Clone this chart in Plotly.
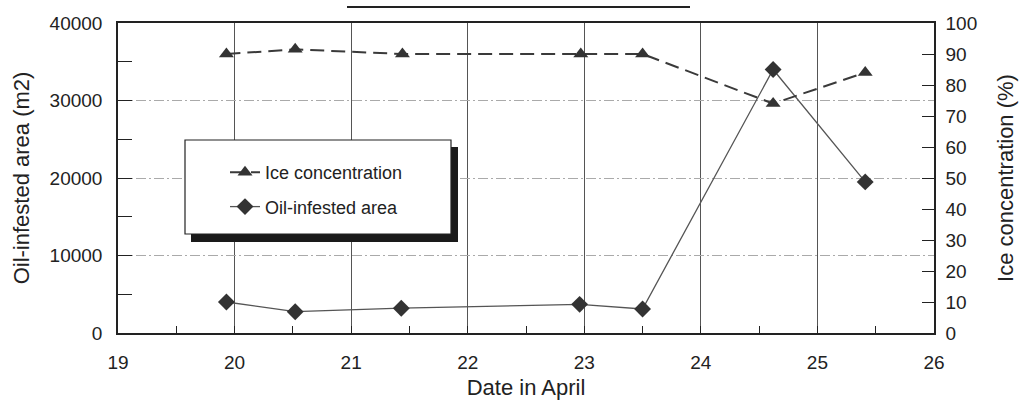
import plotly.graph_objects as go

# Data
ice_dates = [19.93, 20.52, 21.44, 22.97, 23.50, 24.62, 25.41]
ice_conc = [90, 91.5, 90, 90, 90, 74, 84]

oil_dates = [19.93, 20.52, 21.43, 22.96, 23.50, 24.62, 25.41]
oil_area = [4000, 2750, 3200, 3700, 3100, 34000, 19500]

x_ticks = [19, 20, 21, 22, 23, 24, 25, 26]
left_ticks = [0, 10000, 20000, 30000, 40000]
right_ticks = [0, 10, 20, 30, 40, 50, 60, 70, 80, 90, 100]

FONT = "Liberation Sans, Arial, sans-serif"
INK = "#222222"

fig = go.Figure()

fig.add_trace(go.Scatter(
    x=ice_dates, y=ice_conc, yaxis="y2", name="Ice concentration",
    mode="lines+markers", legendgroup="a",
    line=dict(color="#3a3a3a", width=2, dash="14px,7px"),
    marker=dict(symbol="triangle-up", size=13, color="#333333"),
))
fig.add_trace(go.Scatter(
    x=oil_dates, y=oil_area, yaxis="y", name="Oil-infested area",
    mode="lines+markers", legendgroup="b",
    line=dict(color="#555555", width=1.3),
    marker=dict(symbol="diamond", size=13, color="#333333"),
))

L, R, T, B = 118, 934, 23, 333
W, H = R - L, B - T


def px_x(p):
    return (p - L) / W


def px_y(p):
    return (B - p) / H


# legend box with drop shadow (paper coords)
shapes = [
    dict(type="rect", xref="paper", yref="paper", x0=px_x(191), x1=px_x(458), y0=px_y(242), y1=px_y(147),
         fillcolor="#1a1a1a", line=dict(width=0), layer="above"),
    dict(type="rect", xref="paper", yref="paper", x0=px_x(185), x1=px_x(451), y0=px_y(234), y1=px_y(140),
         fillcolor="white", line=dict(color=INK, width=1.2), layer="above"),
    dict(type="line", xref="paper", yref="paper", x0=px_x(347), x1=px_x(690),
         y0=px_y(7), y1=px_y(7), line=dict(color=INK, width=2)),
]

fig.update_layout(
    width=1028, height=400,
    margin=dict(l=L, r=1028 - R, t=T, b=400 - B),
    paper_bgcolor="white", plot_bgcolor="white",
    font=dict(family=FONT, size=19, color=INK),
    showlegend=True,
    legend=dict(x=px_x(225), y=px_y(154), xanchor="left", yanchor="top",
                bgcolor="rgba(0,0,0,0)", borderwidth=0,
                font=dict(size=18, color=INK), traceorder="grouped",
                tracegroupgap=8),
    shapes=shapes,
    xaxis=dict(
        range=[19, 26], tickvals=x_ticks, ticktext=[str(v) for v in x_ticks],
        showgrid=True, gridcolor="#555555", gridwidth=1,
        showline=True, linecolor=INK, linewidth=1.5, mirror=True,
        ticks="inside", ticklen=0, tickcolor=INK,
        minor=dict(dtick=0.5, tick0=19.5, ticks="inside", ticklen=7, tickcolor=INK, showgrid=False),
        ticklabelstandoff=11, automargin=False,
        title=dict(text="Date in April", font=dict(size=22), standoff=10),
        zeroline=False,
    ),
    yaxis=dict(
        range=[0, 40000], tickvals=left_ticks, ticktext=[str(v) for v in left_ticks],
        showgrid=True, gridcolor="#aaaaaa", gridwidth=1, griddash="10px,3px,2px,3px",
        showline=True, linecolor=INK, linewidth=1.5,
        ticks="inside", ticklen=14, tickcolor=INK,
        minor=dict(dtick=5000, tick0=0, ticks="inside", ticklen=14, tickcolor=INK, showgrid=False),
        ticklabelstandoff=10, automargin=False,
        title=dict(text="Oil-infested area (m2)", font=dict(size=22), standoff=14),
        zeroline=False,
    ),
    yaxis2=dict(
        range=[0, 100], tickvals=right_ticks, ticktext=[str(v) for v in right_ticks],
        overlaying="y", side="right", showgrid=False,
        showline=True, linecolor=INK, linewidth=1.5,
        ticks="inside", ticklen=12, tickcolor=INK,
        ticklabelstandoff=6, automargin=False,
        title=dict(text="Ice concentration (%)", font=dict(size=22), standoff=21),
        zeroline=False,
    ),
)

fig.write_html("out.html", config={"displayModeBar": False},
               post_script="document.body.style.margin='0';document.body.style.overflow='hidden';")
